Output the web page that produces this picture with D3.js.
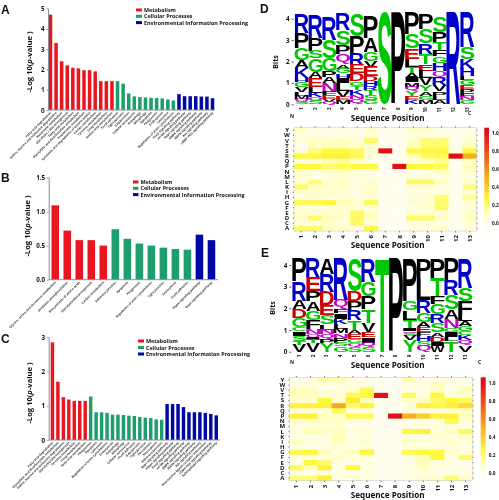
<!DOCTYPE html>
<html><head><meta charset="utf-8">
<script src="https://cdn.jsdelivr.net/npm/d3@7"></script>
<style>
html,body{margin:0;padding:0;background:#fff}
svg{display:block;filter:blur(0.3px)}
text{font-family:"Open Sans",sans-serif;font-weight:700;fill:#111}
</style></head><body>
<svg id="c" width="499" height="500"></svg>
<script>
const groupNames = ["Metabolism","Cellular Processes","Environmental Information Processing"];
const groupColors = ["#e8161e","#1d9e6c","#0008a4"];

const labelsA = ["Fatty acid degradation","Valine, leucine and isoleucine degradation","Butanoate metabolism","Glycolysis / Gluconeogenesis","Fatty acid metabolism","Glyoxylate and dicarboxylate metabolism","Propanoate metabolism","Synthesis and degradation of ketone bodies","Carbon metabolism","Tyrosine metabolism","Drug metabolism","Amino acid metabolism",
"Focal adhesion","Tight junction","Gap junction","Cellular senescence","Autophagy","Mitophagy","Apoptosis","Phagosome","Endocytosis","Lysosome","Regulation of actin cytoskeleton",
"FoxO signaling pathway","mTOR signaling pathway","Rap1 signaling pathway","AMPK signaling pathway","MAPK signaling pathway","Ras signaling pathway","cGMP-PKG signaling pathway"];
const valuesA = [4.7,3.3,2.4,2.2,2.08,2.05,1.96,1.96,1.9,1.42,1.42,1.42,1.42,1.3,0.82,0.67,0.64,0.62,0.6,0.59,0.57,0.52,0.47,0.78,0.68,0.68,0.68,0.66,0.66,0.58];
const groupsA = [12,11,7];

const labelsB = ["Glycine, serine and threonine metabolism","Oxidative phosphorylation","Biosynthesis of amino acids","Glycolysis/Gluconeogenesis","Carbon metabolism","Adherens junction","Apoptosis","Phagosome","Regulation of actin cytoskeleton","Tight junction","Endocytosis","Focal adhesion","Hippo signaling pathway","Rap1 signaling pathway"];
const valuesB = [1.09,0.72,0.58,0.58,0.5,0.74,0.6,0.53,0.5,0.47,0.45,0.44,0.66,0.58];
const groupsB = [5,7,2];

const labelsC = ["Fatty acid degradation","Glyoxylate and dicarboxylate metabolism","Valine, leucine and isoleucine degradation","Glycolysis/Gluconeogenesis","Tyrosine metabolism","Drug metabolism","Fatty acid metabolism",
"Phagosome","Apoptosis","Lysosome","Regulation of actin cytoskeleton","Endocytosis","Autophagy","Mitophagy","Cellular senescence","Focal adhesion","Gap junction","Tight junction","Peroxisome","Necroptosis","Adherens junction",
"Rap1 signaling pathway","Hippo signaling pathway","FoxO signaling pathway","mTOR signaling pathway","AMPK signaling pathway","MAPK signaling pathway","Ras signaling pathway","Neuroactive ligand-receptor interaction","cGMP-PKG signaling pathway","Sphingolipid signaling pathway"];
const valuesC = [2.85,1.7,1.25,1.18,1.14,1.14,1.14,1.27,0.81,0.81,0.79,0.74,0.74,0.73,0.71,0.7,0.67,0.65,0.64,0.6,0.59,1.05,1.05,1.05,0.96,0.81,0.81,0.81,0.79,0.76,0.72];
const groupsC = [7,14,10];

const positions = ["1","2","3","4","5","6","7","8","9","10","11","12","13"];
const residues = ["Y","W","V","T","S","R","Q","P","N","M","L","K","I","H","G","F","E","D","C","A"];

const logoD = [
[["R",.87],["P",.73],["G",.55],["A",.35],["K",.47],["H",.2],["G",.22],["V",.25],["L",.18],["M",.15],["Q",.12],["S",.11]],
[["R",1.05],["P",.58],["S",.36],["G",.62],["A",.3],["E",.4],["L",.27],["K",.22],["Q",.18],["S",.15]],
[["R",1.05],["S",.85],["G",.62],["P",.27],["A",.27],["N",.4],["F",.18],["E",.17],["V",.12],["Q",.12]],
[["R",.75],["S",.7],["P",.43],["Q",.47],["A",.2],["G",.23],["H",.2],["I",.25],["L",.37],["V",.27],["E",.15],["M",.2]],
[["S",1.05],["P",.78],["R",.55],["E",.4],["D",.37],["G",.2],["T",.2],["K",.22],["N",.2],["Q",.25]],
[["P",1.05],["A",.67],["G",.4],["V",.27],["E",.45],["D",.23],["H",.23],["R",.2],["T",.22],["S",.23],["G",.2]],
[["S",4.3]],
[["P",4.3]],
[["P",1.02],["S",.65],["E",.5],["L",.35],["T",.28],["A",.23],["I",.23],["M",.2],["Q",.2],["Y",.22],["E",.2],["K",.2]],
[["P",.75],["S",.68],["R",.5],["T",.47],["E",.3],["L",.35],["V",.34],["Y",.28],["A",.2],["G",.2],["M",.2]],
[["S",.72],["P",.45],["T",.42],["F",.27],["G",.3],["H",.36],["Q",.3],["R",.35],["V",.32],["P",.2],["L",.2],["A",.2]],
[["R",4.3]],
[["R",1.62],["S",.55],["K",.47],["H",.35],["L",.18],["G",.22],["E",.2],["P",.2],["F",.16],["N",.15],["G",.2]]
];

const logoE = [
[["P",1.05],["R",.9],["A",.4],["D",.4],["G",.42],["C",.2],["I",.2],["S",.22],["T",.18],["V",.33]],
[["R",.92],["E",.62],["P",.47],["A",.42],["G",.42],["F",.42],["N",.22],["Q",.18],["I",.1],["T",.15],["V",.4]],
[["A",.72],["R",.82],["D",.62],["E",.45],["S",.42],["L",.25],["N",.22],["Q",.2],["P",.18],["Y",.42]],
[["R",1.92],["Q",.42],["F",.2],["I",.23],["K",.23],["L",.23],["M",.23],["N",.2],["P",.22],["S",.18],["G",.24]],
[["S",1.52],["D",.45],["P",.42],["R",.47],["T",.42],["A",.2],["E",.25],["G",.18],["Q",.18],["S",.21]],
[["R",1.07],["G",.67],["P",.6],["T",.62],["V",.42],["E",.25],["I",.25],["Q",.2],["S",.22]],
[["T",4.3]],
[["P",4.3]],
[["P",1.97],["G",.43],["L",.43],["T",.43],["I",.1],["Q",.1],["S",.12],["V",.2],["Y",.52]],
[["P",.9],["L",1.0],["R",.6],["G",.42],["A",.23],["E",.23],["F",.2],["H",.22],["S",.23],["Q",.27]],
[["P",.9],["T",.85],["F",.37],["G",.45],["R",.42],["S",.42],["A",.2],["D",.22],["I",.2],["W",.27]],
[["P",1.0],["R",.7],["S",.65],["A",.42],["N",.42],["G",.2],["I",.23],["L",.18],["T",.5]],
[["R",1.35],["S",.6],["F",.65],["L",.3],["A",.22],["G",.22],["C",.2],["K",.22],["Q",.23],["V",.31]]
];

const heatD = [
[.08,.02,.02,.02,.02,.08,0,0,.08,.08,.02,0,.02],
[.03,.03,.03,.03,.03,.03,0,0,.03,.03,.03,0,.03],
[.05,.08,.08,.1,.05,.2,0,0,.08,.18,.18,.02,.07],
[0,.08,.1,.1,.08,.08,0,0,.1,.2,.2,.03,.1],
[.05,.18,.25,.25,.22,.05,1,0,.25,.25,.25,.02,.25],
[.25,.25,.28,.28,.22,.05,0,0,.1,.2,.22,1,.5],
[.03,.05,.1,.15,.08,.03,0,0,.05,.08,.15,.01,.07],
[.25,.25,.2,.22,.25,.25,0,1,.25,.25,.22,.01,.1],
[.08,.05,.08,.1,.05,.05,0,0,.03,.03,.1,.01,.07],
[.07,.01,.04,.06,.04,.03,0,0,.04,.04,.03,.01,.03],
[.07,.18,.08,.08,.03,.06,0,0,.2,.2,.08,.01,.06],
[.2,.08,.08,.08,.05,.08,0,0,.04,.04,.03,.01,.18],
[.06,.08,.07,.06,.02,.07,0,0,.05,.05,.04,.01,.05],
[.04,.05,.02,.06,.05,.05,0,0,.05,.05,.18,.01,.15],
[.22,.22,.25,.1,.08,.22,0,0,.06,.08,.2,.01,.07],
[.03,.03,.05,.07,.04,.04,0,0,.03,.05,.2,.01,.03],
[.08,.07,.08,.07,.2,.1,0,0,.08,.08,.05,.01,.07],
[.06,.2,.1,.07,.2,.1,0,0,.2,.2,.08,.01,.1],
[.03,.03,.08,.03,.2,.03,0,0,.03,.03,.03,.01,.03],
[.2,.2,.1,.08,.03,.25,0,0,.05,.05,.08,.01,.05]
];

const heatE = [
[.03,.03,.12,.12,.03,.03,0,0,.12,.03,.03,.02,.02],
[.03,.03,.03,.03,.03,.03,0,0,.03,.03,.1,.03,.03],
[.1,.1,.03,.03,.08,.22,0,0,.03,.03,.1,.03,.1],
[.1,.1,.05,.05,.22,.25,1,0,.22,.03,.25,.05,.05],
[.07,.07,.25,.07,.3,.1,0,0,.07,.1,.2,.25,.22],
[.28,.28,.28,.52,.2,.28,0,0,.05,.28,.25,.28,.35],
[.05,.05,.05,.22,.05,.05,0,0,.03,.05,.05,.08,.1],
[.28,.28,.1,.08,.22,.22,0,1,.5,.4,.28,.28,.1],
[.05,.1,.08,.08,.03,.03,0,0,.03,.03,.03,.22,.05],
[.03,.05,.05,.08,.03,.03,0,0,.03,.03,.03,.05,.03],
[.04,.12,.1,.1,.03,.05,0,0,.25,.28,.03,.1,.22],
[.03,.03,.03,.1,.03,.03,0,0,.03,.03,.08,.03,.08],
[.1,.03,.03,.1,.03,.08,0,0,.1,.05,.03,.08,.05],
[.03,.03,.03,.05,.03,.03,0,0,.03,.05,.05,.05,.03],
[.22,.25,.1,.03,.1,.25,0,0,.22,.25,.25,.07,.05],
[.03,.03,.03,.08,.03,.03,0,0,.03,.1,.25,.03,.2],
[.03,.25,.2,.03,.03,.05,0,0,.03,.1,.05,.03,.03],
[.22,.08,.28,.03,.25,.05,0,0,.03,.1,.03,.03,.03],
[.03,.03,.05,.03,.03,.03,0,0,.03,.03,.03,.03,.03],
[.18,.18,.28,.03,.07,.03,0,0,.03,.07,.07,.2,.07]
];

const letterColors = {R:"#0000c8",K:"#0000c8",H:"#0000c8",P:"#000",A:"#000",L:"#000",I:"#000",M:"#000",V:"#000",F:"#000",W:"#000",
  G:"#00c800",S:"#00c800",T:"#00c800",Y:"#00c800",C:"#00c800",Q:"#c800c8",N:"#c800c8",E:"#d00000",D:"#d00000"};
const heatColor = d3.scaleLinear()
  .domain([-0.09,0,0.05,0.1,0.25,0.5,0.7,1,1.06])
  .range(["#fffff2","#fffeee","#fffed8","#ffffbc","#fff93e","#f6ae22","#ef6a1b","#e01117","#dc0a12"]);

const svg = d3.select("#c");

function panelLetter(t,x,y){
  svg.append("text").attr("x",x).attr("y",y).style("font-family","'Liberation Sans'").attr("font-size",12).text(t);
}

function barPanel(o){
  const g = svg.append("g");
  const y = d3.scaleLinear().domain([0,o.max]).range([o.y0,o.y1]);
  const x = d3.scaleBand().domain(o.labels).range([o.x0,o.x1]).paddingInner(o.pad).paddingOuter(o.outer);
  const colorOf = [];
  o.groups.forEach((n,i)=>{for(let k=0;k<n;k++)colorOf.push(groupColors[i]);});
  g.selectAll("rect.bar").data(o.values).join("rect").attr("class","bar")
    .attr("x",(d,i)=>x(o.labels[i])).attr("width",x.bandwidth())
    .attr("y",d=>y(d)).attr("height",d=>y(0)-y(d)).attr("fill",(d,i)=>colorOf[i]);
  const ax = g.append("g").attr("transform",`translate(${o.x0},0)`)
    .call(d3.axisLeft(y).tickValues(o.ticks).tickFormat(d3.format(o.fmt)).tickSize(1.5).tickPadding(2));
  ax.selectAll("path,line").attr("stroke","#8a8f9a").attr("stroke-width",1);
  ax.select("path").attr("d",`M0.5,${y(0)}V${y(o.max)}`);
  ax.selectAll("text").attr("font-size",6.3).style("font-family","'Open Sans'");
  g.append("line").attr("x1",o.x0).attr("x2",o.x1).attr("y1",y(0)).attr("y2",y(0)).attr("stroke","#8a8f9a");
  g.selectAll("text.xl").data(o.labels).join("text").attr("class","xl")
    .attr("transform",d=>`translate(${x(d)+x.bandwidth()/2+1},${y(0)+3}) rotate(-45)`)
    .attr("text-anchor","end").attr("font-size",o.lab).style("fill","#333").text(d=>d);
  const t = g.append("text").attr("transform",`translate(${o.tx},${o.ty}) rotate(-90)`)
    .attr("text-anchor","middle").attr("font-size",7.6).style("font-family","'Open Sans'");
  t.append("tspan").text("-Log 10(");
  t.append("tspan").attr("font-style","italic").text("p");
  t.append("tspan").text("-value )");
  groupNames.forEach((n,i)=>{
    const ly = o.ly+i*o.ldy;
    g.append("rect").attr("x",o.lx).attr("y",ly-1.5).attr("width",o.lw).attr("height",3).attr("fill",groupColors[i]);
    g.append("text").attr("x",o.lx+o.lw+2).attr("y",ly+2).attr("font-size",5.4).text(n);
  });
}

const meas = document.createElement("canvas").getContext("2d");
function glyphBox(ch){
  meas.font = 'bold 100px "Liberation Sans"';
  const m = meas.measureText(ch);
  return {l:-m.actualBoundingBoxLeft,r:m.actualBoundingBoxRight,a:m.actualBoundingBoxAscent,d:m.actualBoundingBoxDescent};
}

function logoPanel(o){
  const g = svg.append("g");
  const x = d3.scaleBand().domain(positions).range([o.x0,o.x1]);
  const y = d3.scaleLinear().domain([0,4]).range([o.y0,o.y4]);
  o.data.forEach((stack,i)=>{
    let top = d3.sum(stack,d=>d[1]);
    stack.forEach(([ch,h])=>{
      const b = glyphBox(ch);
      const yt = y(top), yb = y(top-h);
      const sx = x.bandwidth()*1.02/(b.r-b.l), sy = (yb-yt)/(b.a+b.d);
      g.append("text").attr("font-size",100).style("font-family","'Liberation Sans'")
        .style("fill",letterColors[ch])
        .attr("transform",`translate(${x(positions[i])},${yb}) scale(${sx},${sy}) translate(${-b.l},${-b.d})`)
        .text(ch);
      top -= h;
    });
  });
  const ax = g.append("g").attr("transform",`translate(${o.x0-1},0)`)
    .call(d3.axisLeft(y).tickValues([0,1,2,3,4]).tickFormat(d3.format("d")).tickSize(2).tickPadding(2));
  ax.select("path").remove();
  ax.selectAll("line").attr("stroke","#555");
  ax.selectAll("text").attr("font-size",6.3).style("font-family","'Open Sans'");
  g.selectAll("text.pos").data(positions).join("text").attr("class","pos")
    .attr("transform",d=>`translate(${x(d)+x.bandwidth()/2+1.5},${o.y0+3}) rotate(-90)`)
    .attr("text-anchor","end").attr("font-size",4.6).text(d=>d);
  g.append("text").attr("transform",`translate(${o.x0-17},${o.bitsY}) rotate(-90)`)
    .attr("text-anchor","middle").attr("font-size",7).text("Bits");
  g.append("text").attr("x",o.nx).attr("y",o.ny).attr("font-size",5).text("N");
  g.append("text").attr("x",o.cx).attr("y",o.cy).attr("font-size",5).text("C");
  g.append("text").attr("x",o.tx).attr("y",o.ty).attr("text-anchor","middle").attr("font-size",8.1).style("font-family","'Open Sans'").text("Sequence Position");
}

function heatPanel(o){
  const g = svg.append("g");
  const x = d3.scaleBand().domain(positions).range([o.x0,o.x1]);
  const y = d3.scaleBand().domain(residues).range([o.y0,o.y1]);
  residues.forEach((r,ri)=>positions.forEach((p,pi)=>{
    g.append("rect").attr("x",x(p)).attr("y",y(r)).attr("width",x.bandwidth()+.3).attr("height",y.bandwidth()+.3)
      .attr("fill",heatColor(o.data[ri][pi]));
  }));
  g.append("rect").attr("x",o.x0).attr("y",o.y0).attr("width",o.x1-o.x0).attr("height",o.y1-o.y0).attr("fill","none").attr("stroke","#ccc").attr("stroke-width",.6);
  const bottom = g.append("g").attr("transform",`translate(0,${o.y1})`).call(d3.axisBottom(x).tickSize(1.5).tickPadding(2.5));
  bottom.select("path").remove();
  bottom.selectAll("line").attr("stroke","#777");
  bottom.selectAll("text").attr("font-size",6).style("font-family","'Open Sans'")
    .attr("transform","rotate(-90)").attr("text-anchor","end").attr("dy","0.35em").attr("x",-4).attr("y",0);
  const top = g.append("g").attr("transform",`translate(0,${o.y0})`).call(d3.axisTop(x).tickSize(1.5).tickFormat(""));
  top.select("path").remove(); top.selectAll("line").attr("stroke","#777");
  const left = g.append("g").attr("transform",`translate(${o.x0},0)`).call(d3.axisLeft(y).tickSize(1).tickPadding(3));
  left.select("path").remove(); left.selectAll("line").attr("stroke","#777");
  left.selectAll("text").attr("font-size",6).style("font-family","'Open Sans'").attr("text-anchor","middle").attr("x",-7);
  const right = g.append("g").attr("transform",`translate(${o.x1},0)`).call(d3.axisRight(y).tickSize(1).tickFormat(""));
  right.select("path").remove(); right.selectAll("line").attr("stroke","#777");
  // colour bar
  const id = "grad"+o.id;
  const grad = svg.append("defs").append("linearGradient").attr("id",id).attr("x1",0).attr("x2",0).attr("y1",1).attr("y2",0);
  heatColor.domain().forEach(v=>grad.append("stop").attr("offset",(v+0.09)/1.15).attr("stop-color",heatColor(v)));
  const cy = d3.scaleLinear().domain([0,1]).range([o.cb0,o.cb1]);
  g.append("rect").attr("x",o.cbx).attr("y",o.y0).attr("width",o.cbw).attr("height",o.y1-o.y0).attr("fill",`url(#${id})`);
  const cax = g.append("g").attr("transform",`translate(${o.cbx+o.cbw},0)`)
    .call(d3.axisRight(cy).tickValues([0,.2,.4,.6,.8,1]).tickFormat(d3.format(".1f")).tickSize(0).tickPadding(3));
  cax.select("path").remove();
  cax.selectAll("text").attr("font-size",4.8);
  g.append("text").attr("x",o.tx).attr("y",o.ty).attr("text-anchor","middle").attr("font-size",8.1).style("font-family","'Open Sans'").text("Sequence Position");
}

panelLetter("A",1,14);
panelLetter("B",1,182);
panelLetter("C",1,343);
panelLetter("D",260,13);
panelLetter("E",261,257);

barPanel({labels:labelsA,values:valuesA,groups:groupsA,max:5,y0:110,y1:8.5,x0:48,x1:215,pad:.37,outer:.13,ticks:[0,1,2,3,4,5],fmt:"d",lab:3.1,tx:32,ty:62,lx:136,ly:10,ldy:6.3,lw:6});
barPanel({labels:labelsB,values:valuesB,groups:groupsB,max:1.5,y0:279.7,y1:177.4,x0:48.7,x1:218,pad:.37,outer:.23,ticks:[0,.5,1,1.5],fmt:".1f",lab:3.1,tx:30,ty:226,lx:133,ly:182,ldy:6.3,lw:5.5});
barPanel({labels:labelsC,values:valuesC,groups:groupsC,max:3,y0:440,y1:337.2,x0:48.7,x1:220,pad:.37,outer:.37,ticks:[0,1,2,3],fmt:"d",lab:3.1,tx:31.5,ty:393,lx:138,ly:341,ldy:6.5,lw:6});

logoPanel({data:logoD,x0:294.7,x1:474,y0:104.3,y4:18.7,bitsY:62,nx:290,ny:117.5,cx:468,cy:115,tx:387.7,ty:120.5});
logoPanel({data:logoE,x0:292.3,x1:472,y0:351.7,y4:265,bitsY:308,nx:290,ny:364,cx:478,cy:364,tx:387.7,ty:367.5});

heatPanel({id:"D",data:heatD,x0:294,x1:476.7,y0:127.7,y1:231,cbx:484.3,cbw:4.7,cb0:222.7,cb1:133.2,tx:387.7,ty:247.5});
heatPanel({id:"E",data:heatE,x0:289.3,x1:472.7,y0:377.3,y1:480.7,cbx:480.7,cbw:5,cb0:473.3,cb1:383,tx:387.7,ty:498});
</script>
</body></html>
